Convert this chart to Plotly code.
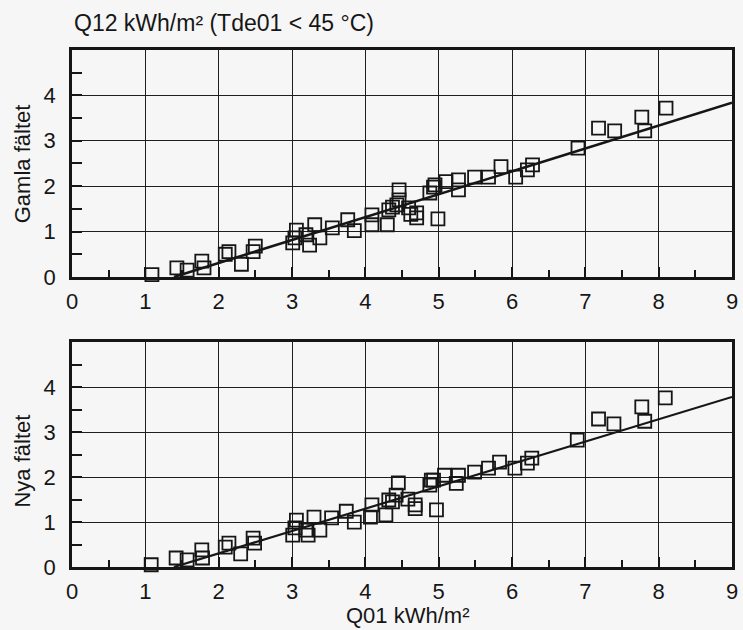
import plotly.graph_objects as go
from plotly.subplots import make_subplots

# Q01 vs Q12 measurements, old field ("Gamla fältet")
gamla_x = [1.09, 1.43, 1.57, 1.77, 1.80, 2.09, 2.14, 2.31, 2.47, 2.50,
           3.01, 3.04, 3.06, 3.19, 3.24, 3.31, 3.38, 3.55, 3.76, 3.85,
           4.09, 4.09, 4.30, 4.32, 4.37, 4.43, 4.46, 4.46, 4.59, 4.62, 4.70, 4.70, 4.88,
           4.93, 4.95, 4.99, 5.10, 5.27, 5.27, 5.49, 5.68, 5.85, 6.05,
           6.21, 6.28, 6.90, 7.18, 7.40, 7.77, 7.81, 8.10]
gamla_y = [0.05, 0.20, 0.15, 0.35, 0.20, 0.50, 0.56, 0.28, 0.56, 0.68,
           0.75, 0.86, 1.03, 0.93, 0.70, 1.15, 0.86, 1.08, 1.26, 1.02,
           1.37, 1.15, 1.15, 1.48, 1.54, 1.59, 1.70, 1.92, 1.52, 1.38, 1.41, 1.30, 1.85,
           1.98, 2.03, 1.28, 2.10, 2.14, 1.92, 2.20, 2.20, 2.43, 2.20,
           2.36, 2.47, 2.84, 3.28, 3.22, 3.52, 3.22, 3.72]

# Q01 vs Q12 measurements, new field ("Nya fältet")
nya_x = [1.08, 1.42, 1.57, 1.77, 1.78, 2.09, 2.14, 2.30, 2.47, 2.49,
         3.01, 3.04, 3.06, 3.19, 3.22, 3.30, 3.38, 3.54, 3.74, 3.85,
         4.07, 4.09, 4.28, 4.32, 4.37, 4.42, 4.45, 4.58, 4.68, 4.68, 4.88,
         4.90, 4.93, 4.97, 5.08, 5.24, 5.27, 5.49, 5.68, 5.83, 6.04,
         6.21, 6.27, 6.89, 7.18, 7.39, 7.77, 7.81, 8.09]
nya_y = [0.05, 0.20, 0.16, 0.38, 0.20, 0.44, 0.53, 0.29, 0.64, 0.53,
         0.71, 0.87, 1.04, 0.82, 0.71, 1.11, 0.82, 1.09, 1.24, 1.00,
         1.11, 1.38, 1.16, 1.49, 1.45, 1.60, 1.87, 1.51, 1.38, 1.30, 1.82,
         1.93, 1.93, 1.27, 2.04, 1.86, 2.04, 2.11, 2.20, 2.33, 2.20,
         2.31, 2.42, 2.82, 3.29, 3.18, 3.56, 3.24, 3.76]

# Linear fit lines (start, end)
fit_gamla_x = [1.39, 9.0]
fit_gamla_y = [0.0, 3.84]
fit_nya_x = [1.39, 9.0]
fit_nya_y = [0.0, 3.78]

x_ticks = [0, 1, 2, 3, 4, 5, 6, 7, 8, 9]
y_ticks = [0, 1, 2, 3, 4]

FONT = "Liberation Sans, Arial, sans-serif"
FS = 22
INK = "#161616"
BG = "#f6f6f6"

fig = make_subplots(rows=2, cols=1)

panels = [
    (1, gamla_x, gamla_y, fit_gamla_x, fit_gamla_y, 2.6),
    (2, nya_x, nya_y, fit_nya_x, fit_nya_y, 2.2),
]
for row, xs, ys, fx, fy, lw in panels:
    fig.add_trace(go.Scatter(
        x=xs, y=ys, mode="markers",
        marker=dict(symbol="square-open", size=13, color=INK, line=dict(width=1.8, color=INK)),
        showlegend=False, hoverinfo="skip", cliponaxis=False,
    ), row=row, col=1)
    fig.add_trace(go.Scatter(
        x=fx, y=fy, mode="lines",
        line=dict(color=INK, width=lw),
        showlegend=False, hoverinfo="skip",
    ), row=row, col=1)

axis_common = dict(
    showgrid=True, gridcolor="#1e1e1e", gridwidth=1.4,
    showline=True, linecolor=INK, linewidth=2.8, mirror=True,
    zeroline=False, ticks="inside", tickcolor=INK, tickwidth=1.6,
    tickfont=dict(family=FONT, size=FS, color=INK),
)

for row in (1, 2):
    fig.update_xaxes(
        range=[0, 9], tickvals=x_ticks, ticklen=10, ticklabelstandoff=3,
        minor=dict(ticks="inside", dtick=0.5, ticklen=7, tickwidth=1.6,
                   tickcolor=INK, showgrid=False),
        **axis_common, row=row, col=1)
    fig.update_yaxes(
        range=[0, 5], tickvals=y_ticks, ticklen=10, ticklabelstandoff=9,
        minor=dict(ticks="inside", dtick=0.5, ticklen=10, tickwidth=1.6,
                   tickcolor=INK, showgrid=False),
        **axis_common, row=row, col=1)

fig.update_layout(
    width=743, height=630,
    margin=dict(l=72, r=5, t=50, b=63),
    paper_bgcolor=BG, plot_bgcolor=BG,
    font=dict(family=FONT, size=FS, color=INK),
    yaxis=dict(domain=[0.561, 1.0]),
    yaxis2=dict(domain=[0.0, 0.435]),
    annotations=[
        dict(text="Q12 kWh/m² (Tde01 < 45 °C)", xref="paper", yref="paper",
             x=0.0, y=1.052, xanchor="left", yanchor="middle", showarrow=False,
             font=dict(family=FONT, size=23, color=INK)),
        dict(text="Gamla fältet", xref="paper", yref="paper", textangle=-90,
             x=-0.075, y=0.78, xanchor="center", yanchor="middle", showarrow=False,
             font=dict(family=FONT, size=FS, color=INK)),
        dict(text="Nya fältet", xref="paper", yref="paper", textangle=-90,
             x=-0.075, y=0.205, xanchor="center", yanchor="middle", showarrow=False,
             font=dict(family=FONT, size=FS, color=INK)),
        dict(text="Q01 kWh/m²", xref="paper", yref="paper",
             x=0.508, y=-0.094, xanchor="center", yanchor="middle", showarrow=False,
             font=dict(family=FONT, size=FS, color=INK)),
    ],
)

fig.write_html("out.html")
